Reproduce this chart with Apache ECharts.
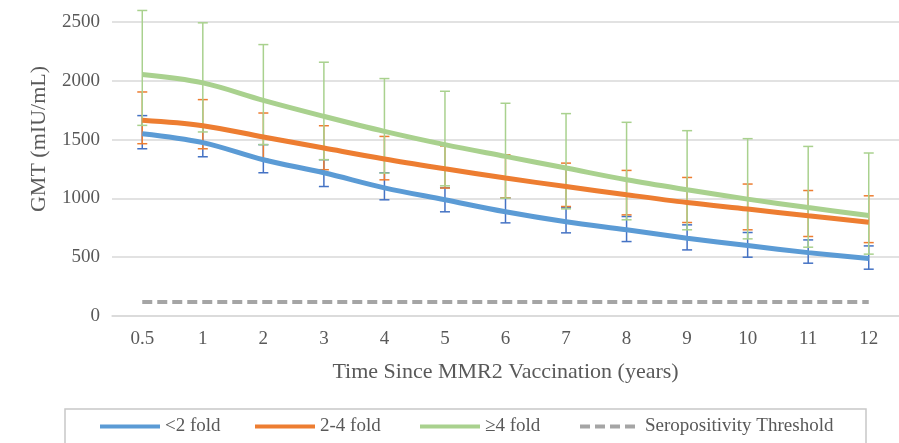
<!DOCTYPE html>
<html>
<head>
<meta charset="utf-8">
<script src="https://cdn.jsdelivr.net/npm/echarts@6/dist/echarts.min.js"></script>
<style>
  html, body { margin: 0; padding: 0; background: #fff; }
  #chart { width: 899px; height: 443px; }
</style>
</head>
<body>
<div id="chart"></div>
<script>
const years = ["0.5", "1", "2", "3", "4", "5", "6", "7", "8", "9", "10", "11", "12"];

// <2 fold
const lt2Gmt = [1550, 1474, 1329, 1218, 1090, 988, 886, 801, 733, 662, 599, 539, 488];
const lt2Low = [1422, 1354, 1218, 1101, 988, 886, 792, 707, 633, 562, 500, 449, 398];
const lt2High = [1704, 1615, 1457, 1329, 1218, 1090, 1005, 920, 846, 775, 710, 647, 596];

// 2-4 fold
const mid24Gmt = [1664, 1618, 1522, 1428, 1335, 1252, 1173, 1101, 1031, 965, 909, 852, 798];
const mid24Low = [1465, 1422, 1335, 1244, 1158, 1088, 1005, 931, 860, 795, 733, 676, 624];
const mid24High = [1905, 1840, 1726, 1618, 1527, 1446, 1371, 1300, 1238, 1178, 1122, 1067, 1022];

// >=4 fold
const ge4Gmt = [2053, 1982, 1834, 1698, 1570, 1457, 1357, 1258, 1158, 1073, 994, 922, 854];
const ge4Low = [1621, 1565, 1457, 1329, 1215, 1107, 1002, 911, 818, 733, 656, 585, 526];
const ge4High = [2598, 2493, 2308, 2158, 2019, 1911, 1809, 1721, 1647, 1576, 1508, 1442, 1386];

const threshold = [120, 120, 120, 120, 120, 120, 120, 120, 120, 120, 120, 120, 120];

const textColor = "#595959";
const font = "Liberation Serif";

function errorData(low, high) {
  return low.map((v, i) => [i, v, high[i]]);
}

function errorSeries(name, low, high, color) {
  return {
    name: name + " CI",
    type: "custom",
    z: 1,
    silent: true,
    data: errorData(low, high),
    renderItem: function(params, api) {
      const lo = api.coord([api.value(0), api.value(1)]);
      const hi = api.coord([api.value(0), api.value(2)]);
      const hw = 5;
      const style = { stroke: color, lineWidth: 1.5 };
      return {
        type: "group",
        children: [
          { type: "line", shape: { x1: hi[0], y1: hi[1], x2: lo[0], y2: lo[1] }, style: style },
          { type: "line", shape: { x1: hi[0] - hw, y1: hi[1], x2: hi[0] + hw, y2: hi[1] }, style: style },
          { type: "line", shape: { x1: lo[0] - hw, y1: lo[1], x2: lo[0] + hw, y2: lo[1] }, style: style }
        ]
      };
    }
  };
}

function lineSeries(name, data, color) {
  return {
    name: name,
    type: "line",
    z: 3,
    smooth: 0.35,
    symbol: "none",
    data: data,
    lineStyle: { color: color, width: 5 },
    itemStyle: { color: color }
  };
}

function legendAt(name, left) {
  return {
    data: [name],
    left: left,
    top: 417,
    padding: 0,
    itemWidth: 60,
    itemHeight: 8,
    itemStyle: { opacity: 0 },
    lineStyle: { width: 4 },
    textStyle: { color: textColor, fontFamily: font, fontSize: 19 }
  };
}

let myChart = echarts.init(document.getElementById("chart"));
myChart.setOption({
  animation: false,
  backgroundColor: "#fff",
  grid: { left: 112, top: 22, width: 798, bottom: 127 },
  legend: [
    legendAt("<2 fold", 98),
    legendAt("2-4 fold", 253),
    legendAt("≥4 fold", 418),
    legendAt("Seropositivity Threshold", 578)
  ],
  graphic: [
    {
      type: "rect",
      shape: { x: 65, y: 409, width: 801, height: 60 },
      style: { fill: "none", stroke: "#c8c8c8", lineWidth: 1.5 }
    },
    {
      type: "text",
      x: 39,
      y: 139,
      rotation: Math.PI / 2,
      style: {
        text: "GMT (mIU/mL)",
        fill: textColor,
        font: "22px 'Liberation Serif'",
        align: "center",
        verticalAlign: "middle"
      }
    }
  ],
  xAxis: {
    type: "category",
    data: years,
    boundaryGap: true,
    name: "Time Since MMR2 Vaccination (years)",
    nameLocation: "middle",
    nameGap: 45,
    nameTextStyle: { color: textColor, fontFamily: font, fontSize: 22 },
    axisLine: { lineStyle: { color: "#d9d9d9", width: 1.5 } },
    axisTick: { show: false },
    axisLabel: { color: textColor, fontFamily: font, fontSize: 19, margin: 14 }
  },
  yAxis: {
    type: "value",
    min: 0,
    max: 2500,
    interval: 500,
    axisLine: { show: false },
    axisTick: { show: false },
    axisLabel: {
      color: textColor,
      fontFamily: font,
      fontSize: 19,
      margin: 12,
      formatter: function(v) { return String(v); }
    },
    splitLine: { lineStyle: { color: "#d9d9d9", width: 1.5 } }
  },
  series: [
    errorSeries("<2 fold", lt2Low, lt2High, "#4472c4"),
    errorSeries("2-4 fold", mid24Low, mid24High, "#ed7d31"),
    errorSeries("≥4 fold", ge4Low, ge4High, "#a9d18e"),
    lineSeries("<2 fold", lt2Gmt, "#5b9bd5"),
    lineSeries("2-4 fold", mid24Gmt, "#ed7d31"),
    lineSeries("≥4 fold", ge4Gmt, "#a9d18e"),
    {
      name: "Seropositivity Threshold",
      type: "line",
      z: 3,
      symbol: "none",
      data: threshold,
      lineStyle: { color: "#a5a5a5", width: 4, type: [10, 5] },
      itemStyle: { color: "#a5a5a5" }
    }
  ]
});
window.addEventListener("resize", function() {
  myChart.resize();
});
</script>
</body>
</html>
